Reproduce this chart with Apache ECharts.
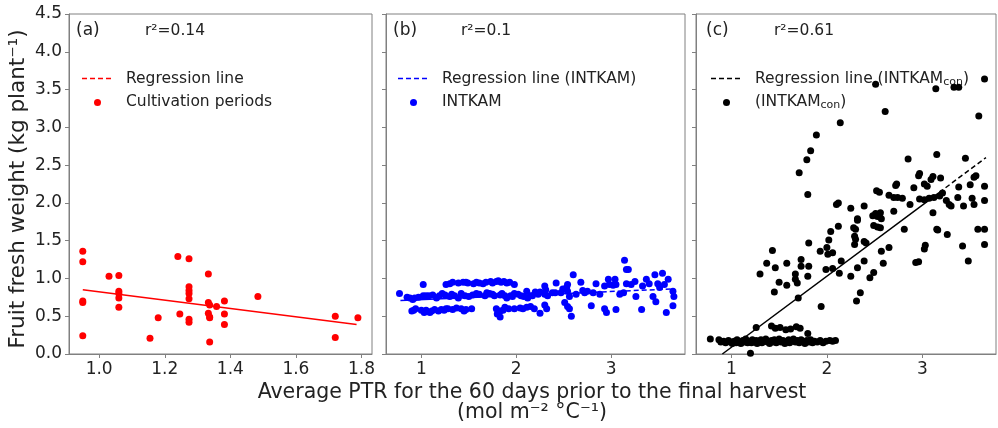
<!DOCTYPE html>
<html><head><meta charset="utf-8">
<script src="https://cdn.jsdelivr.net/npm/echarts@6.0.0/dist/echarts.min.js"></script>
<style>html,body{margin:0;padding:0;background:#fff}#c{width:998px;height:428px}</style>
</head><body><div id="c"></div>
<script>
// ---------- data ----------
const yTicks = [0, 0.5, 1, 1.5, 2, 2.5, 3, 3.5, 4, 4.5];
const aTicks = [1.0, 1.2, 1.4, 1.6, 1.8];
const bTicks = [1, 2, 3];
const cTicks = [1, 2, 3];

// (a) observed cultivation periods
const aX = [0.95,0.95,0.95,0.95,0.95,1.03,1.06,1.06,1.06,1.06,1.06,1.155,1.18,1.24,1.246,1.274,1.274,1.274,1.274,1.274,1.274,1.274,1.333,1.333,1.337,1.333,1.337,1.337,1.337,1.358,1.382,1.382,1.382,1.484,1.72,1.72,1.789];
const aY = [1.36,1.22,0.70,0.68,0.24,1.03,1.04,0.83,0.80,0.74,0.62,0.21,0.48,1.29,0.53,1.26,0.89,0.84,0.80,0.73,0.46,0.42,1.06,0.68,0.65,0.54,0.49,0.48,0.16,0.63,0.70,0.53,0.39,0.76,0.50,0.22,0.48];
const aRegX = [0.95, 1.785];
const aRegY = [0.85, 0.39];

// (b) INTKAM
const bX = [1.26,1.30,1.39,1.44,1.49,1.55,1.61,1.68,1.73,1.79,1.84,1.90,1.98,1.33,1.47,1.58,1.65,1.75,1.81,1.87,1.93,1.02,
0.77,0.88,0.91,1.02,1.05,1.12,1.19,1.25,1.30,1.35,1.39,1.46,1.54,1.61,1.67,1.72,1.77,1.83,1.88,1.94,1.98,2.05,2.11,2.15,
0.85,0.93,0.97,1.08,1.16,1.22,1.32,1.42,1.50,1.58,1.69,1.75,1.85,1.90,1.96,2.02,2.08,2.12,
0.90,0.94,1.05,1.09,1.18,1.21,1.26,1.37,1.42,1.47,1.53,1.79,1.83,1.88,1.92,1.98,2.04,2.11,2.15,1.83,
0.92,1.00,1.03,1.11,1.14,1.24,1.28,1.33,1.45,1.80,1.86,2.07,
2.25,2.25,2.30,2.31,2.30,2.33,2.38,2.42,2.41,2.47,2.49,2.53,2.54,2.54,2.56,2.60,2.63,2.68,2.70,2.72,2.75,2.81,2.84,2.88,2.93,2.97,2.98,3.02,3.04,3.05,3.09,3.13,3.16,3.18,3.16,3.21,3.25,3.26,3.33,3.37,3.40,3.46,3.49,3.51,3.54,3.56,3.60,3.65,3.66,
2.30,2.32,2.51,2.54,2.56,2.58,2.79,2.93,2.95,3.05,3.32,3.44,3.47,3.58,3.65,
3.14,2.17,2.20,2.19,2.23];
const bY = [0.92,0.93,0.94,0.95,0.94,0.93,0.94,0.95,0.96,0.96,0.95,0.94,0.92,0.95,0.95,0.95,0.93,0.94,0.97,0.96,0.95,0.92,
0.80,0.74,0.72,0.77,0.77,0.78,0.77,0.78,0.76,0.77,0.74,0.77,0.78,0.79,0.77,0.80,0.77,0.78,0.77,0.77,0.80,0.77,0.83,0.77,
0.75,0.74,0.75,0.77,0.74,0.80,0.79,0.80,0.76,0.80,0.81,0.79,0.80,0.74,0.76,0.79,0.76,0.74,
0.57,0.60,0.58,0.55,0.57,0.59,0.60,0.61,0.60,0.59,0.60,0.60,0.57,0.62,0.60,0.60,0.61,0.62,0.63,0.49,
0.58,0.58,0.55,0.57,0.59,0.58,0.60,0.59,0.57,0.53,0.58,0.60,
0.54,0.82,0.90,0.85,0.79,0.77,0.81,0.94,0.81,0.81,0.86,0.88,0.92,0.83,0.76,1.05,0.79,0.95,0.84,0.81,0.83,0.81,0.93,0.79,0.90,0.99,0.92,0.91,0.99,0.92,0.79,0.81,1.12,1.12,0.93,0.92,0.96,0.76,0.90,0.99,0.93,1.05,0.93,0.88,1.07,0.92,0.99,0.83,0.76,
0.65,0.60,0.68,0.63,0.60,0.50,0.64,0.60,0.55,0.59,0.59,0.76,0.69,0.55,0.64,
1.24,0.77,0.82,0.60,0.79];
const bRegSolidX = [0.78, 2.9];
const bRegSolidY = [0.707, 0.822];
const bRegDashX = [2.9, 3.66];
const bRegDashY = [0.822, 0.862];

// (c) INTKAM_con
const cX = [0.78,0.87,0.89,0.92,0.94,0.97,0.99,1.01,1.03,1.05,1.06,1.08,1.10,1.12,1.14,1.15,1.17,1.19,1.21,1.22,1.24,1.26,1.27,1.29,1.31,1.32,1.34,1.36,1.38,1.40,1.42,1.43,1.45,1.47,1.49,1.50,1.52,1.54,1.56,1.58,1.60,1.61,1.63,1.65,1.67,1.69,1.71,1.73,1.75,1.77,1.79,1.81,1.83,1.85,1.87,1.90,1.93,1.96,1.99,2.03,2.06,2.09,
1.26,1.42,1.46,1.51,1.57,1.62,1.68,1.72,1.80,1.20,
2.14,1.89,1.83,1.79,1.71,1.80,2.12,2.10,2.12,2.04,2.02,1.81,1.43,1.93,2.00,2.01,2.06,2.15,1.37,1.46,1.58,1.73,1.73,1.81,1.30,1.67,1.80,1.99,2.06,2.13,1.50,1.58,1.67,1.69,1.45,1.70,1.94,
2.51,3.14,3.33,3.38,3.65,2.61,3.59,2.85,3.15,3.45,2.97,2.96,3.11,3.09,3.19,3.02,3.05,2.91,2.72,2.73,2.52,2.55,2.65,2.70,2.74,2.79,3.38,3.50,3.54,3.56,3.65,3.37,3.52,3.65,2.87,2.97,3.02,3.07,3.12,3.18,3.21,3.25,3.28,3.30,3.43,3.54,2.25,2.39,2.48,2.51,2.55,2.56,2.70,3.11,2.32,
2.32,2.28,2.30,2.53,2.57,2.49,2.53,2.56,2.29,2.30,2.39,2.41,2.29,2.81,3.15,3.16,3.26,3.58,3.65,3.65,3.42,3.03,3.02,2.65,2.57,2.39,2.32,2.49,2.45,2.59,2.25,2.93,2.96,3.48,2.35,2.31];
const cY = [0.20,0.19,0.16,0.17,0.15,0.18,0.16,0.14,0.17,0.15,0.19,0.16,0.14,0.18,0.16,0.20,0.15,0.17,0.15,0.19,0.16,0.18,0.14,0.17,0.19,0.15,0.17,0.20,0.16,0.14,0.18,0.16,0.19,0.15,0.17,0.20,0.16,0.18,0.14,0.17,0.19,0.15,0.17,0.20,0.16,0.18,0.15,0.19,0.17,0.14,0.18,0.16,0.19,0.15,0.17,0.16,0.18,0.15,0.17,0.18,0.17,0.18,
0.35,0.37,0.34,0.35,0.32,0.33,0.36,0.34,0.27,0.01,
3.06,2.90,2.69,2.57,2.40,2.11,2.00,1.98,1.69,1.62,1.51,1.47,1.37,1.36,1.41,1.32,1.34,1.23,1.20,1.14,1.20,1.25,1.16,1.16,1.06,1.06,1.03,1.12,1.13,1.07,0.95,0.91,0.99,0.94,0.82,0.74,0.63,
3.57,3.51,3.53,3.53,3.64,3.21,3.15,2.58,2.64,2.59,2.39,2.36,2.35,2.31,2.33,2.25,2.22,2.20,2.23,2.25,2.16,2.14,2.10,2.07,2.07,2.06,2.21,2.24,2.34,2.36,2.22,2.07,2.06,2.03,1.98,2.05,2.04,2.06,2.07,2.09,2.13,2.03,1.98,1.96,1.96,1.98,1.93,1.96,1.83,1.86,1.83,1.87,1.89,1.87,1.79,
1.77,1.67,1.65,1.82,1.79,1.70,1.68,1.67,1.56,1.52,1.49,1.47,1.45,1.65,1.65,1.64,1.58,1.65,1.65,1.45,1.43,1.44,1.39,1.41,1.36,1.23,1.14,1.08,1.01,1.20,1.03,1.21,1.22,1.23,0.81,0.70];
const cRegSolidX = [0.906, 3.175];
const cRegSolidY = [0.0, 2.137];
const cRegDashX = [3.175, 3.665];
const cRegDashY = [2.137, 2.6];

// ---------- chart ----------
const FONT = 'DejaVu Sans';
const AX = '#808080';
const TXT = '#222';
const zip = (xs, ys) => xs.map((x, i) => [x, ys[i]]);

const grids = [
  {left: 69, top: 14, width: 303, height: 340},
  {left: 386, top: 14, width: 299, height: 340},
  {left: 696, top: 14, width: 300, height: 340}
].map(g => Object.assign(g, {show: true, borderColor: AX, borderWidth: 1, backgroundColor: 'transparent'}));

function yAx(i, showLabels) {
  return {
    type: 'value', gridIndex: i, min: 0, max: 4.5, interval: 0.5,
    axisLine: {show: true, lineStyle: {color: AX}},
    axisTick: {show: true, length: 4, lineStyle: {color: AX}},
    axisLabel: {show: showLabels, formatter: v => v.toFixed(1), fontSize: 17, color: TXT, margin: 7, fontFamily: FONT},
    splitLine: {show: false}
  };
}
function xAx(i, min, max, ticks, dec) {
  return {
    type: 'value', gridIndex: i, min: min, max: max,
    axisLine: {show: true, onZero: false, lineStyle: {color: AX}},
    axisTick: {show: true, length: 4, customValues: ticks, lineStyle: {color: AX}},
    axisLabel: {show: true, customValues: ticks, formatter: v => v.toFixed(dec), fontSize: 17, color: TXT, margin: 7, fontFamily: FONT},
    splitLine: {show: false}
  };
}
function lineSeries(i, xs, ys, color, dashed) {
  return {type: 'line', xAxisIndex: i, yAxisIndex: i, data: zip(xs, ys), symbol: 'none', z: 3,
    lineStyle: {color: color, width: 1.5, type: dashed ? [5, 3] : 'solid'}, silent: true};
}
function scatter(i, xs, ys, color) {
  return {type: 'scatter', xAxisIndex: i, yAxisIndex: i, data: zip(xs, ys), symbolSize: 7, z: 2,
    itemStyle: {color: color, opacity: 1}};
}

const txt = (x, y, text, size, extra) => ({type: 'text', x: x, y: y, silent: true,
  style: Object.assign({text: text, fontSize: size, fontFamily: FONT, fill: TXT, verticalAlign: 'middle'}, extra || {})});
const subRich = {n: {fontSize: 15.5, fontFamily: FONT, fill: TXT, lineHeight: 18},
                 s: {fontSize: 11, fontFamily: FONT, fill: TXT, lineHeight: 11, verticalAlign: 'bottom'}};

function legendItems(x0, lineColor, dotColor, t1, t2, rich) {
  const out = [];
  out.push({type: 'line', silent: true, shape: {x1: x0, y1: 78.5, x2: x0 + 31, y2: 78.5},
    style: {stroke: lineColor, lineWidth: 1.5, lineDash: [5, 3]}});
  out.push({type: 'circle', silent: true, shape: {cx: x0 + 15.5, cy: 102.5, r: 3.5}, style: {fill: dotColor}});
  const s1 = {text: t1, fontSize: 15.5, fontFamily: FONT, fill: TXT, verticalAlign: 'middle'};
  const s2 = {text: t2, fontSize: 15.5, fontFamily: FONT, fill: TXT, verticalAlign: 'middle'};
  if (rich) { s1.rich = subRich; s2.rich = subRich; }
  out.push({type: 'text', silent: true, x: x0 + 44, y: 78.5, style: s1});
  out.push({type: 'text', silent: true, x: x0 + 44, y: 101.5, style: s2});
  return out;
}

const graphic = [
  txt(76, 31, '(a)', 17), txt(145, 31, 'r²=0.14', 15.5),
  txt(393, 31, '(b)', 17), txt(461, 31, 'r²=0.1', 15.5),
  txt(706, 31, '(c)', 17), txt(774, 31, 'r²=0.61', 15.5),
  ...legendItems(82, '#ff0000', '#ff0000', 'Regression line', 'Cultivation periods', false),
  ...legendItems(398, '#0000ff', '#0000ff', 'Regression line (INTKAM)', 'INTKAM', false),
  ...legendItems(711, '#000000', '#000000', '{n|Regression line (INTKAM}{s|con}{n|)}', '{n|(INTKAM}{s|con}{n|)}', true),
  {type: 'text', silent: true, x: 18, y: 189, rotation: Math.PI / 2,
    style: {text: 'Fruit fresh weight (kg plant⁻¹)', fontSize: 21.5, fontFamily: FONT, fill: TXT, align: 'center', verticalAlign: 'middle'}},
  {type: 'text', silent: true, x: 532, y: 393,
    style: {text: 'Average PTR for the 60 days prior to the final harvest', fontSize: 20.5, fontFamily: FONT, fill: TXT, align: 'center', verticalAlign: 'middle'}},
  {type: 'text', silent: true, x: 532, y: 413,
    style: {text: '(mol m⁻² °C⁻¹)', fontSize: 20.5, fontFamily: FONT, fill: TXT, align: 'center', verticalAlign: 'middle'}}
];

const chart = echarts.init(document.getElementById('c'), null, {renderer: 'canvas'});
chart.setOption({
  animation: false,
  backgroundColor: '#ffffff',
  grid: grids,
  xAxis: [xAx(0, 0.908, 1.832, aTicks, 1), xAx(1, 0.628, 3.777, bTicks, 0), xAx(2, 0.63, 3.77, cTicks, 0)],
  yAxis: [yAx(0, true), yAx(1, false), yAx(2, false)],
  series: [
    scatter(0, aX, aY, '#ff0000'),
    lineSeries(0, aRegX, aRegY, '#ff0000', false),
    scatter(1, bX, bY, '#0000ff'),
    lineSeries(1, bRegSolidX, bRegSolidY, '#0000ff', false),
    lineSeries(1, bRegDashX, bRegDashY, '#0000ff', true),
    scatter(2, cX, cY, '#000000'),
    lineSeries(2, cRegSolidX, cRegSolidY, '#000000', false),
    lineSeries(2, cRegDashX, cRegDashY, '#000000', true)
  ],
  graphic: graphic
});
</script></body></html>
